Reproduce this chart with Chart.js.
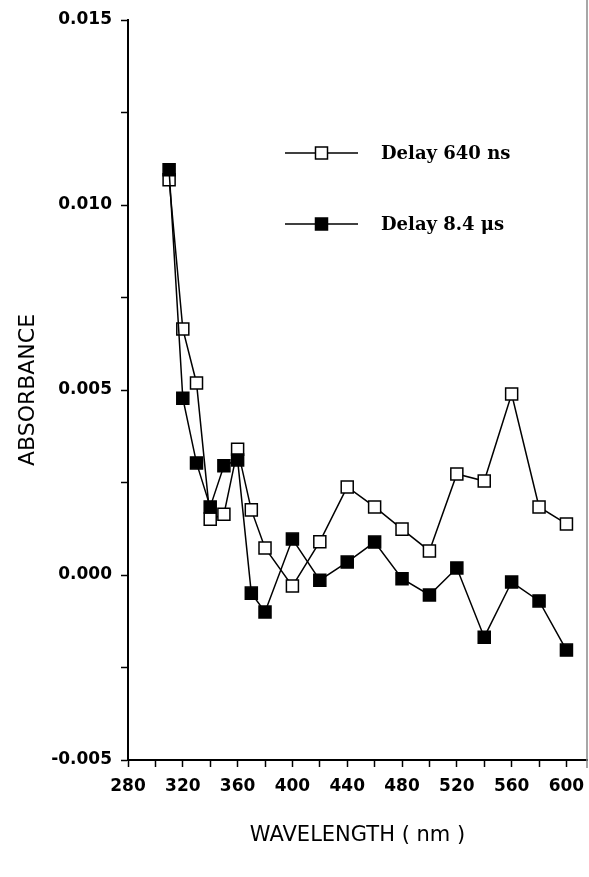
<!DOCTYPE html>
<html>
<head>
<meta charset="utf-8">
<script src="https://cdn.jsdelivr.net/npm/chart.js@4/dist/chart.umd.min.js"></script>
<style>
  html, body { margin: 0; padding: 0; background: #fff; overflow: hidden; }
  #wrap { width: 589px; height: 877px; position: relative; overflow: hidden; }
  canvas { display: block; }
</style>
</head>
<body>
<div id="wrap"><canvas id="c" width="597" height="877"></canvas></div>
<script>
const wavelengths = [310, 320, 330, 340, 350, 360, 370, 380, 400, 420, 440, 460, 480, 500, 520, 540, 560, 580, 600];
const delay640ns = [0.01068, 0.00665, 0.00519, 0.00151, 0.00164, 0.0034, 0.00176, 0.00073, -0.0003, 0.0009, 0.00238, 0.00184, 0.00124, 0.00065, 0.00273, 0.00254, 0.00489, 0.00184, 0.00138];
const delay8_4us = [0.01095, 0.00478, 0.00303, 0.00184, 0.00295, 0.00311, -0.00049, -0.001, 0.00097, -0.00014, 0.00035, 0.00089, -0.0001, -0.00054, 0.00019, -0.00168, -0.00019, -0.0007, -0.00203];
const seriesLabels = ['Delay 640 ns', 'Delay 8.4 \u03bcs'];
const xTickLabels = [280, 320, 360, 400, 440, 480, 520, 560, 600];
const yTickLabels = [-0.005, 0.000, 0.005, 0.010, 0.015];

const toPts = (ys) => wavelengths.map((x, i) => ({ x: x, y: ys[i] }));

const legendPlugin = {
  id: 'insideLegend',
  afterDraw(chart, args, opts) {
    const ctx = chart.ctx;
    const a = chart.chartArea;
    chart.data.datasets.forEach((ds, i) => {
      const y = a.top + opts.rowY[i];
      const x1 = a.left + opts.lineX1, x2 = a.left + opts.lineX2;
      ctx.save();
      ctx.strokeStyle = '#000';
      ctx.lineWidth = 1.5;
      ctx.beginPath(); ctx.moveTo(x1, y); ctx.lineTo(x2, y); ctx.stroke();
      const s = 12;
      const cx = (x1 + x2) / 2;
      ctx.fillStyle = ds.pointBackgroundColor;
      ctx.fillRect(cx - s / 2, y - s / 2, s, s);
      ctx.lineWidth = 1.5;
      ctx.strokeRect(cx - s / 2, y - s / 2, s, s);
      ctx.fillStyle = '#000';
      ctx.font = 'bold 18px "DejaVu Serif"';
      ctx.textBaseline = 'middle';
      ctx.textAlign = 'left';
      ctx.fillText(ds.label, a.left + opts.textX, y + 1);
      ctx.restore();
    });
  }
};

const edgePlugin = {
  id: 'edgeLine',
  afterDraw(chart) {
    const ctx = chart.ctx;
    const a = chart.chartArea;
    ctx.save();
    ctx.strokeStyle = '#8a8a8a';
    ctx.lineWidth = 1.5;
    ctx.beginPath(); ctx.moveTo(a.right, 0); ctx.lineTo(a.right, a.bottom + 8); ctx.stroke();
    ctx.restore();
  }
};

const near = (v, step) => Math.abs(v / step - Math.round(v / step)) < 1e-6;

new Chart(document.getElementById('c'), {
  type: 'scatter',
  data: {
    datasets: [
      {
        label: seriesLabels[0],
        data: toPts(delay640ns),
        showLine: true,
        borderColor: '#000',
        borderWidth: 1.5,
        pointStyle: 'rect',
        pointRadius: 8.5,
        pointHoverRadius: 8.5,
        pointBackgroundColor: '#fff',
        pointBorderColor: '#000',
        pointBorderWidth: 1.5,
        order: 2
      },
      {
        label: seriesLabels[1],
        data: toPts(delay8_4us),
        showLine: true,
        borderColor: '#000',
        borderWidth: 1.5,
        pointStyle: 'rect',
        pointRadius: 8.5,
        pointHoverRadius: 8.5,
        pointBackgroundColor: '#000',
        pointBorderColor: '#000',
        pointBorderWidth: 1.5,
        order: 1
      }
    ]
  },
  options: {
    responsive: false,
    animation: false,
    layout: { padding: { left: 0, right: 2, top: 20, bottom: 0 } },
    plugins: {
      legend: { display: false },
      tooltip: { enabled: false },
      insideLegend: { lineX1: 157, lineX2: 230, textX: 253, rowY: [133, 204] }
    },
    scales: {
      x: {
        type: 'linear',
        min: 280,
        max: 615,
        afterFit: (s) => { s.height = 117; s.paddingRight = 0; s.paddingLeft = 0; },
        afterBuildTicks: (s) => {
          s.ticks = [];
          for (let v = 280; v <= 600; v += 20) s.ticks.push({ value: v });
        },
        ticks: {
          autoSkip: false,
          maxRotation: 0,
          padding: 9,
          color: '#000',
          font: { family: '"DejaVu Sans"', weight: 'bold', size: 17 },
          callback: (v) => xTickLabels.includes(v) ? String(v) : ''
        },
        grid: { drawOnChartArea: false, drawTicks: true, tickLength: 7, tickColor: '#000', tickWidth: 1.5 },
        border: { display: true, color: '#000', width: 2 },
        title: {
          display: true,
          text: 'WAVELENGTH ( nm )',
          color: '#000',
          font: { family: '"DejaVu Sans"', size: 21, weight: 'normal' },
          padding: { top: 0, bottom: 29 }
        }
      },
      y: {
        type: 'linear',
        min: -0.005,
        max: 0.015,
        afterFit: (s) => { s.width = 128; },
        afterBuildTicks: (s) => {
          s.ticks = [];
          for (let n = -2; n <= 6; n++) s.ticks.push({ value: n * 0.0025 });
        },
        ticks: {
          autoSkip: false,
          padding: 9,
          color: '#000',
          font: { family: '"DejaVu Sans"', weight: 'bold', size: 17 },
          callback: (v) => {
            if (!near(v, 0.005)) return '';
            const m = yTickLabels.find(t => Math.abs(t - v) < 1e-9);
            return m === undefined ? '' : (Math.abs(m) < 1e-12 ? '0.000' : m.toFixed(3));
          }
        },
        grid: { drawOnChartArea: false, drawTicks: true, tickLength: 7, tickColor: '#000', tickWidth: 1.5 },
        border: { display: true, color: '#000', width: 2 },
        title: {
          display: true,
          text: 'ABSORBANCE',
          color: '#000',
          font: { family: '"DejaVu Sans"', size: 22, weight: 'normal' },
          padding: { top: 15, bottom: 0 }
        }
      }
    }
  },
  plugins: [legendPlugin, edgePlugin]
});
</script>
</body>
</html>
